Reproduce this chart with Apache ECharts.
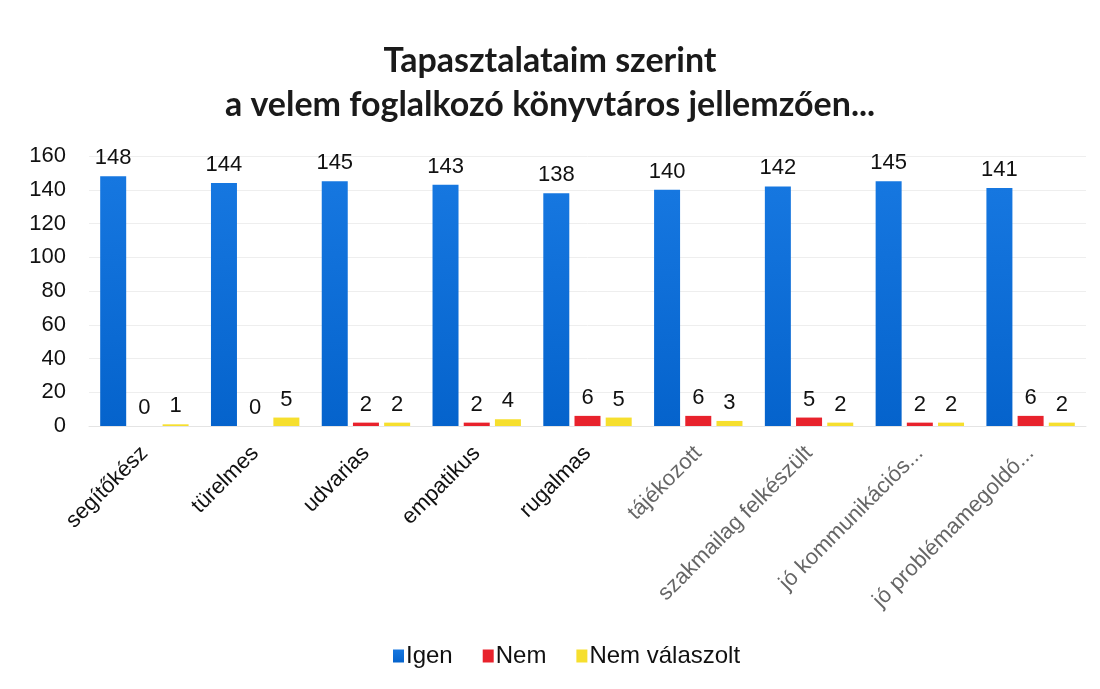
<!DOCTYPE html>
<html>
<head>
<meta charset="utf-8">
<script src="https://cdn.jsdelivr.net/npm/echarts@6/dist/echarts.min.js"></script>
<style>
    html, body { margin: 0; padding: 0; background: #fff; }
    #chart { width: 1100px; height: 689px; }
</style>
</head>
<body>
<div id="chart"></div>
<script>
// kategóriák és adatok
const categories = ["segítőkész", "türelmes", "udvarias", "empatikus", "rugalmas",
    "tájékozott", "szakmailag felkészült", "jó kommunikációs...", "jó problémamegoldó..."];
const igen = [148, 144, 145, 143, 138, 140, 142, 145, 141];
const nem = [0, 0, 2, 2, 6, 6, 5, 2, 6];
const nemValaszolt = [1, 5, 2, 4, 5, 3, 2, 2, 2];
const seriesNames = ["Igen", "Nem", "Nem válaszolt"];
const colors = ["#0a6ed8", "#e8222c", "#f6df2e"];

const chart = echarts.init(document.getElementById("chart"));

const barLabel = {
    show: true,
    position: "top",
    distance: 7,
    color: "#111",
    fontSize: 22,
    fontFamily: "Liberation Sans",
};

const option = {
    color: colors,
    title: {
        text: "Tapasztalataim szerint\na velem foglalkozó könyvtáros jellemzően...",
        left: "center",
        top: 34,
        textStyle: {
            fontFamily: "Lato",
            fontWeight: "bold",
            fontSize: 34,
            lineHeight: 44,
            color: "#1a1a1a",
        },
    },
    legend: {
        bottom: 16,
        left: 388,
        itemWidth: 11,
        itemHeight: 13,
        itemGap: 30,
        icon: "rect",
        textStyle: {
            fontFamily: "Liberation Sans",
            fontSize: 24,
            color: "#111",
            padding: [0, 0, 0, -3],
        },
        data: seriesNames,
    },
    grid: {
        left: 89,
        right: 14,
        top: 156,
        bottom: 263,
    },
    xAxis: {
        type: "category",
        data: categories.map((c, i) => ({
            value: c,
            textStyle: { color: i < 5 ? "#111" : "#666" },
        })),
        axisLine: { show: true, lineStyle: { color: "#e4e4e4" } },
        axisTick: { show: false },
        axisLabel: {
            rotate: 45,
            interval: 0,
            margin: 24,
            fontSize: 22,
            fontFamily: "Liberation Sans",
        },
    },
    yAxis: {
        type: "value",
        min: 0,
        max: 160,
        interval: 20,
        axisLine: { show: false },
        axisTick: { show: false },
        splitLine: { lineStyle: { color: "#eeeeee" } },
        axisLabel: {
            fontSize: 22,
            color: "#111",
            fontFamily: "Liberation Sans",
            margin: 23,
        },
    },
    series: [
        {
            name: seriesNames[0],
            type: "bar",
            data: igen,
            barWidth: 26,
            barGap: "20%",
            itemStyle: {
                color: new echarts.graphic.LinearGradient(0, 0, 0, 1, [
                    { offset: 0, color: "#1677e0" },
                    { offset: 1, color: "#0563cc" },
                ]),
            },
            label: barLabel,
        },
        {
            name: seriesNames[1],
            type: "bar",
            data: nem,
            barWidth: 26,
            itemStyle: { color: colors[1] },
            label: barLabel,
        },
        {
            name: seriesNames[2],
            type: "bar",
            data: nemValaszolt,
            barWidth: 26,
            itemStyle: { color: colors[2] },
            label: barLabel,
        },
    ],
};

chart.setOption(option);
</script>
</body>
</html>
